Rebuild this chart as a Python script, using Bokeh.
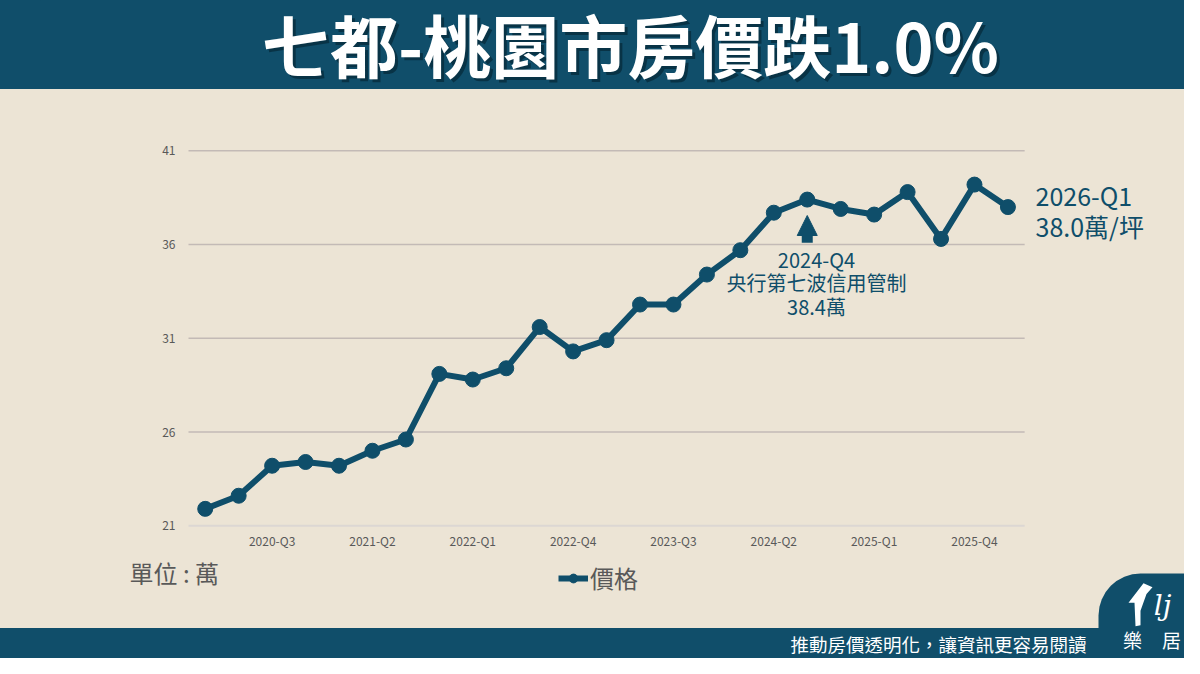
from bokeh.plotting import figure
from bokeh.layouts import column
from bokeh.models import (Range1d, FixedTicker, Label, BoxAnnotation, PolyAnnotation,
                          Legend, LegendItem, Arrow, NormalHead, ColumnDataSource)
from bokeh.embed import file_html
from bokeh.resources import INLINE

# ---------------- data ----------------
quarters = ["2020-Q1", "2020-Q2", "2020-Q3", "2020-Q4",
            "2021-Q1", "2021-Q2", "2021-Q3", "2021-Q4",
            "2022-Q1", "2022-Q2", "2022-Q3", "2022-Q4",
            "2023-Q1", "2023-Q2", "2023-Q3", "2023-Q4",
            "2024-Q1", "2024-Q2", "2024-Q3", "2024-Q4",
            "2025-Q1", "2025-Q2", "2025-Q3", "2025-Q4",
            "2026-Q1"]
prices = [21.9, 22.6, 24.2, 24.4, 24.2, 25.0, 25.6, 29.1, 28.8, 29.4,
          31.6, 30.3, 30.9, 32.8, 32.8, 34.4, 35.7, 37.7, 38.4, 37.9,
          37.6, 38.8, 36.3, 39.2, 38.0]
y_ticks = [21, 26, 31, 36, 41]
series_name = "價格"
title_text = "七都-桃園市房價跌1.0%"
unit_text = "單位 : 萬"
event_lines = ["2024-Q4", "央行第七波信用管制", "38.4萬"]
last_lines = ["2026-Q1", "38.0萬/坪"]
footer_text = "推動房價透明化，讓資訊更容易閱讀"
logo_chars = ["樂", "居"]

# ---------------- styles / layout ----------------
TEAL = "#0f4e6a"
BANNER = "#104e6a"
BG = "#ece4d5"
GRAY = "#595959"
FONT = "Noto Sans CJK TC"

W = 1184
LB = 40                                   # common left border of all figures
HEAD_H, MID_H, FOOT_H = 89, 465, 104
KY = 658 / 674.0                          # vertical compression of reference layout


def Y(y_ref):
    return y_ref * KY


def bare(height, top, fill, css_bg):
    f = figure(width=W, height=height, output_backend="svg", toolbar_location=None,
               x_range=Range1d(LB, W), y_range=Range1d(top + height, top),
               x_axis_location=None, y_axis_location=None, title=None,
               min_border_left=LB, min_border_right=0, min_border_top=0, min_border_bottom=0,
               background_fill_color=fill, border_fill_color=None, outline_line_color=None,
               styles={"background": css_bg})
    f.grid.grid_line_color = None
    return f


# ================= header =================
head = bare(HEAD_H, 0, BANNER, BANNER)
head.add_layout(Label(x=633, y=Y(47), text=title_text, text_align="center", text_baseline="middle",
                      text_font=FONT, text_font_style="bold", text_font_size="68px",
                      text_color="#03222f", text_alpha=0.6))
head.add_layout(Label(x=630, y=Y(44), text=title_text, text_align="center", text_baseline="middle",
                      text_font=FONT, text_font_style="bold", text_font_size="68px",
                      text_color="white"))

# ================= chart =================
MID_TOP = HEAD_H
F_BOTTOM = 531                             # frame bottom (page px)
MID_BB = MID_TOP + MID_H - F_BOTTOM
PX_X = (1008 - 205.3) / (len(quarters) - 1)
PX_Y = (Y(538) - Y(154)) / (y_ticks[-1] - y_ticks[0])
AX_X = 188                                 # page x of the value axis

xs = list(range(len(quarters)))
src = ColumnDataSource(dict(x=xs, y=prices))

x0 = -0.5
x1 = len(quarters) - 0.5
xs_start = x0 - (AX_X - LB) / PX_X
frame_h = F_BOTTOM - MID_TOP
ys_start = y_ticks[0] - (F_BOTTOM - Y(538)) / PX_Y
p = figure(width=W, height=MID_H, output_backend="svg", toolbar_location=None, title=None,
           x_range=Range1d(xs_start, xs_start + (W - LB) / PX_X),
           y_range=Range1d(ys_start, ys_start + frame_h / PX_Y),
           min_border_left=LB, min_border_top=0, min_border_right=0, min_border_bottom=MID_BB,
           background_fill_color=BG, border_fill_color=None, outline_line_color=None,
           styles={"background": BG})

p.xaxis.ticker = FixedTicker(ticks=[i for i in xs if i % 3 == 2])
p.xaxis.major_label_overrides = {i: quarters[i] for i in xs if i % 3 == 2}
p.xaxis.major_tick_line_color = None
p.xaxis.major_tick_out = 0
p.xaxis.minor_tick_line_color = None
p.xaxis.axis_line_color = None
p.xaxis.major_label_text_font = FONT
p.xaxis.major_label_text_font_size = "12px"
p.xaxis.major_label_text_color = GRAY
p.xaxis.major_label_standoff = 0

p.yaxis.fixed_location = x0
p.yaxis.ticker = FixedTicker(ticks=y_ticks)
p.yaxis.major_tick_line_color = None
p.yaxis.major_tick_out = 0
p.yaxis.minor_tick_line_color = None
p.yaxis.axis_line_color = None
p.yaxis.major_label_text_font = FONT
p.yaxis.major_label_text_font_size = "12px"
p.yaxis.major_label_text_color = GRAY
p.yaxis.major_label_standoff = 13

p.grid.grid_line_color = None
# baseline and horizontal grid lines, limited to the category span
p.segment(x0=[x0], x1=[x1], y0=y_ticks[:1], y1=y_ticks[:1], line_color="#dcd7d3", line_width=2)
gl = y_ticks[1:]
p.segment(x0=[x0] * len(gl), x1=[x1] * len(gl), y0=gl, y1=gl,
          line_color="#c3bab6", line_width=1.5)

r_line = p.line("x", "y", source=src, line_color=TEAL, line_width=6)
r_pts = p.scatter("x", "y", source=src, size=15, fill_color=TEAL, line_color=TEAL)

ev = quarters.index("2024-Q3")
p.add_layout(Arrow(x_start=xs[ev], y_start=prices[ev] - 2.3, x_end=xs[ev], y_end=prices[ev] - 0.85,
                   line_color=TEAL, line_width=11,
                   end=NormalHead(size=20, fill_color=TEAL, line_color=TEAL, line_width=1)))


def msx(x):
    return x - LB


def msy(y_ref):
    return F_BOTTOM - Y(y_ref)


for txt, yr in zip(event_lines, [265, 289, 313]):
    p.add_layout(Label(x=msx(816), y=msy(yr), x_units="screen", y_units="screen",
                       text=txt, text_align="center", text_baseline="middle",
                       text_font=FONT, text_font_size="20px", text_color=TEAL))
for txt, yr in zip(last_lines, [199, 231]):
    p.add_layout(Label(x=msx(1035), y=msy(yr), x_units="screen", y_units="screen",
                       text=txt, text_align="left", text_baseline="middle",
                       text_font=FONT, text_font_size="25px", text_color=TEAL))

# ================= footer (beige strip + teal band) =================
FOOT_TOP = HEAD_H + MID_H
band_at = round(Y(643) - FOOT_TOP)
foot_css = (f"linear-gradient(to bottom, {BG} 0px, {BG} {band_at}px, "
            f"{BANNER} {band_at}px, {BANNER} 100%)")
foot = bare(FOOT_H, FOOT_TOP, None, foot_css)
foot.add_layout(BoxAnnotation(left=1098, right=1230, top=Y(587), bottom=FOOT_TOP + FOOT_H + 20,
                              border_radius=(42, 0, 0, 0),
                              fill_color=BANNER, fill_alpha=1, line_color=None))
foot.add_layout(Label(x=129, y=Y(586), text=unit_text, text_align="left", text_baseline="middle",
                      text_font=FONT, text_font_size="24px", text_color=GRAY))
# logo: house silhouette + script letters
foot.add_layout(PolyAnnotation(xs=[1128, 1143, 1152, 1146, 1140, 1140, 1135, 1134],
                               ys=[Y(v) for v in (617, 597, 601, 608, 625, 640, 641, 617)],
                               fill_color="white", fill_alpha=1, line_color=None))
foot.add_layout(Label(x=1162, y=Y(620), text="lj", text_align="center", text_baseline="middle",
                      text_font="DejaVu Serif", text_font_style="italic", text_font_size="28px",
                      text_color="white"))
foot.add_layout(Label(x=1086, y=Y(659), text=footer_text, text_align="right",
                      text_baseline="middle", text_font=FONT, text_font_size="18.5px",
                      text_color="white"))
for ch, xc in zip(logo_chars, [1132, 1171]):
    foot.add_layout(Label(x=xc, y=Y(655), text=ch, text_align="center",
                          text_baseline="middle", text_font=FONT, text_font_size="19px",
                          text_color="white"))

# legend sample renderers (same data, outside the visible window of this strip)
lg_line = foot.line(xs, prices, line_color=TEAL, line_width=6)
lg_pts = foot.scatter(xs, prices, size=15, fill_color=TEAL, line_color=TEAL)
legend = Legend(items=[LegendItem(label=series_name, renderers=[lg_line, lg_pts])],
                location=(558 - LB, 63),
                background_fill_alpha=0, border_line_alpha=0,
                label_text_font=FONT, label_text_font_size="24px", label_text_color=GRAY,
                glyph_width=30, glyph_height=22, label_height=22, label_standoff=2,
                padding=0, margin=0, spacing=0)
foot.add_layout(legend)

layout = column(head, p, foot, spacing=0)
open("out.html", "w").write(file_html(layout, INLINE))
